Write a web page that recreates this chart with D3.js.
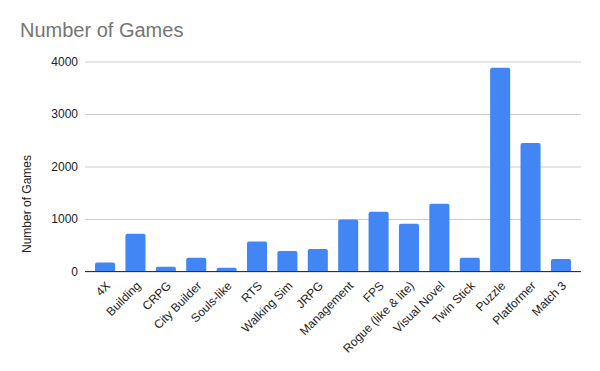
<!DOCTYPE html>
<html>
<head>
<meta charset="utf-8">
<script src="https://cdn.jsdelivr.net/npm/d3@7"></script>
<style>
  body { margin: 0; background: #fff; }
  text { font-family: Arial, "Liberation Sans", sans-serif; }
</style>
</head>
<body>
<svg id="chart" width="600" height="371"></svg>
<script>
let genres = ["4X", "Building", "CRPG", "City Builder", "Souls-like", "RTS", "Walking Sim", "JRPG",
    "Management", "FPS", "Rogue (like & lite)", "Visual Novel", "Twin Stick", "Puzzle", "Platformer", "Match 3"];
let games = [170, 720, 90, 260, 70, 570, 390, 430, 990, 1140, 910, 1290, 260, 3880, 2450, 240];
let yTicks = [0, 1000, 2000, 3000, 4000];

let svg = d3.select("#chart"),
    plotLeft = 85, plotRight = 581, plotTop = 61.5, plotBottom = 271.5;

svg.append("rect").attr("width", 600).attr("height", 371).attr("fill", "#fff");

let scaleX = d3.scaleBand()
    .domain(genres)
    .range([plotLeft, plotRight])
    .paddingInner(0.34)
    .paddingOuter(0.33);

let scaleY = d3.scaleLinear()
    .domain([0, 4000])
    .range([plotBottom, plotTop]);

// title
svg.append("text")
    .attr("x", 20).attr("y", 37)
    .attr("fill", "#757575")
    .style("font-size", "20px")
    .text("Number of Games");

// gridlines + tick labels
let yAxis = svg.append("g")
    .attr("transform", "translate(" + plotLeft + ",0)")
    .call(d3.axisLeft(scaleY).tickValues(yTicks).tickFormat(d3.format("d"))
        .tickSize(-(plotRight - plotLeft)).tickPadding(7));
yAxis.select(".domain").remove();
yAxis.selectAll(".tick line").attr("stroke", "#cccccc");
yAxis.selectAll(".tick text")
    .attr("fill", "#222")
    .style("font-size", "12px")
    .style("font-family", "Arial, 'Liberation Sans', sans-serif");

// y axis title
svg.append("text")
    .attr("transform", "translate(31,204) rotate(-90)")
    .attr("text-anchor", "middle")
    .attr("fill", "#222")
    .style("font-size", "12px")
    .text("Number of Games");

// bars with rounded tops
const r = 2;
svg.append("g").selectAll("path")
    .data(genres)
    .enter().append("path")
    .attr("fill", "#4285f4")
    .attr("d", (d, i) => {
        let x0 = scaleX(d), w = scaleX.bandwidth(), y0 = scaleY(games[i]), y1 = scaleY(0);
        return "M" + x0 + "," + y1 +
            "V" + (y0 + r) +
            "Q" + x0 + "," + y0 + " " + (x0 + r) + "," + y0 +
            "H" + (x0 + w - r) +
            "Q" + (x0 + w) + "," + y0 + " " + (x0 + w) + "," + (y0 + r) +
            "V" + y1 + "Z";
    });

// baseline
svg.append("line")
    .attr("x1", plotLeft).attr("x2", plotRight)
    .attr("y1", scaleY(0)).attr("y2", scaleY(0))
    .attr("stroke", "#333").attr("stroke-width", 1);

// x labels
svg.append("g").selectAll("text")
    .data(genres)
    .enter().append("text")
    .attr("transform", d => "translate(" + (scaleX(d) + scaleX.bandwidth() / 2 + 3) + "," + (plotBottom + 12) + ") rotate(-45)")
    .attr("text-anchor", "end")
    .attr("dy", "0.35em")
    .attr("fill", "#222")
    .style("font-size", "12px")
    .text(d => d);
</script>
</body>
</html>
